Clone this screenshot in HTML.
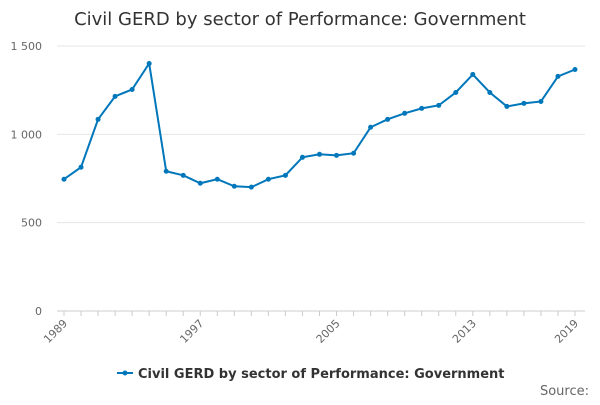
<!DOCTYPE html>
<html><head><meta charset="utf-8"><style>
body{margin:0;background:#fff;font-family:"Liberation Sans","DejaVu Sans",sans-serif;}
svg text{font-family:"DejaVu Sans","Liberation Sans",sans-serif;}
</style></head><body>
<svg id="chart" width="600" height="400" viewBox="0 0 600 400" xmlns="http://www.w3.org/2000/svg">
<text x="300" y="25" text-anchor="middle" font-size="18" fill="#333">Civil GERD by sector of Performance: Government</text>
<g id="grid"></g><g id="xaxis"></g><g id="series"></g>
<g>
<line x1="117" y1="373" x2="133" y2="373" stroke="#0077bb" stroke-width="2"/>
<circle cx="125" cy="373" r="2.5" fill="#0077bb"/>
<text x="138" y="378" font-size="13" font-weight="bold" fill="#333">Civil GERD by sector of Performance: Government</text>
</g>
<text x="589" y="395" text-anchor="end" font-size="13" fill="#666">Source:</text>
</svg>
<script>
const years=[1989,1990,1991,1992,1993,1994,1995,1996,1997,1998,1999,2000,2001,2002,2003,2004,2005,2006,2007,2008,2009,2010,2011,2012,2013,2014,2015,2016,2017,2018,2019];
const values=[746,814,1085,1215,1254,1401,791,768,723,746,706,701,746,768,870,887,881,893,1040,1085,1119,1147,1164,1237,1339,1237,1158,1175,1186,1328,1367];
const yTicks=[0,500,1000,1500];
const yTickLabels=["0","500","1 000","1 500"];
const xTickYears=[1989,1997,2005,2013,2019];
const NS="http://www.w3.org/2000/svg";
const x=v=>64+(v-1989)*(575-64)/30;
const y=v=>311-v*(311-46)/1500;
const grid=document.getElementById('grid'),xa=document.getElementById('xaxis'),ser=document.getElementById('series');
function mk(tag,attrs,parent){const e=document.createElementNS(NS,tag);for(const k in attrs)e.setAttribute(k,attrs[k]);parent.appendChild(e);return e;}
yTicks.forEach((t,i)=>{
  const l=mk('line',{x1:57,x2:585,y1:y(t),y2:y(t),stroke:t===0?'#ccc':'#e6e6e6'},grid);
  
  
  const tx=mk('text',{x:42,y:y(t)+4,'text-anchor':'end','font-size':11,fill:'#666'},grid);
  tx.textContent=yTickLabels[i];
  
  
});
years.forEach(yr=>{
  const l=mk('line',{x1:x(yr),x2:x(yr),y1:311,y2:316,stroke:'#ccc'},xa);
  
  
});
xTickYears.forEach(yr=>{
  const t=mk('text',{x:x(yr)+4,y:324,'text-anchor':'end','font-size':11,fill:'#666',transform:`rotate(-45 ${x(yr)+4} 324)`},xa);
  t.textContent=yr;
  
  
});
const p=mk('polyline',{points:years.map((yr,i)=>x(yr)+','+y(values[i])).join(' '),fill:'none',stroke:'#0077bb','stroke-width':2},ser);


years.forEach((yr,i)=>{
  const c=mk('circle',{cx:x(yr),cy:y(values[i]),r:2.5,fill:'#0077bb'},ser);
  
  
});
</script>
</body></html>
